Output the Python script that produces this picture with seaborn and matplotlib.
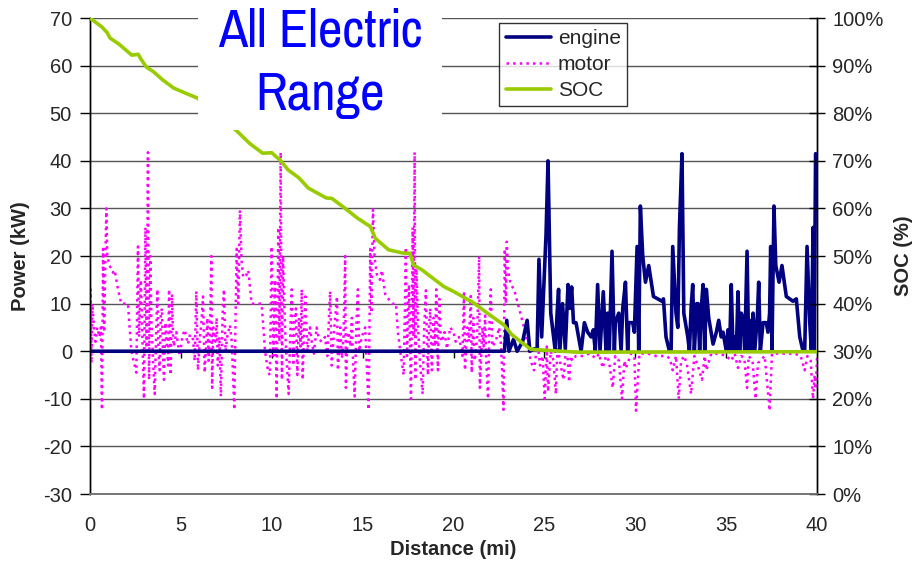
import matplotlib
matplotlib.use("Agg")
import matplotlib.pyplot as plt
import matplotlib.font_manager as fm
from matplotlib.patches import Rectangle
from matplotlib.ticker import FuncFormatter
import pandas as pd
import seaborn as sns

# SOC line (distance in mi, state of charge in %)
soc_mi = [0.0, 0.66, 0.93, 1.1, 1.6, 2.3, 2.5, 2.65, 2.8, 3.1, 3.5, 4.0, 4.6, 5.2, 5.9,
          7.0, 8.15, 8.8, 9.5, 10.0, 10.2, 10.45, 10.9, 11.5, 12.0, 13.0, 13.31, 14.04,
          14.7, 15.42, 15.7, 16.43, 17.25, 17.6, 17.8, 18.26, 19.46, 20.03, 21.13, 21.86,
          22.78, 23.2, 23.7, 24.25, 25.5, 26.8, 40.0]
soc_pct = [100.0, 98.1, 97.0, 95.8, 94.5, 92.2, 92.3, 92.4, 91.4, 89.7, 88.7, 87.0, 85.3,
           84.3, 83.2, 80.0, 76.0, 73.6, 71.6, 71.7, 71.0, 70.2, 68.1, 66.4, 64.3, 62.2,
           62.1, 60.0, 58.0, 56.2, 53.7, 51.3, 50.6, 50.6, 48.1, 47.1, 43.6, 42.5, 40.1,
           38.0, 35.5, 33.5, 32.0, 30.4, 30.1, 29.8, 29.9]

# engine power (kW)
engine_mi = [0.0, 22.8, 22.93, 23.05, 23.3, 23.5, 23.8, 24.05, 24.2, 24.45, 24.6, 24.7,
             24.85, 25.09, 25.2, 25.35, 25.6, 25.7, 25.78, 25.85, 26.0, 26.15, 26.3, 26.4,
             26.5, 26.6, 26.74, 27.02, 27.2, 27.38, 27.57, 27.69, 27.8, 27.93, 28.06, 28.24,
             28.39, 28.48, 28.57, 28.72, 28.85, 28.9, 29.09, 29.22, 29.31, 29.46, 29.58,
             29.64, 29.86, 29.95, 30.1, 30.19, 30.28, 30.41, 30.56, 30.74, 31.0, 31.24,
             31.47, 31.55, 31.69, 31.88, 31.97, 32.06, 32.24, 32.34, 32.43, 32.57, 32.67,
             32.89, 32.98, 33.07, 33.16, 33.25, 33.38, 33.45, 33.54, 33.63, 33.73, 33.82,
             33.91, 34.04, 34.28, 34.46, 34.59, 34.73, 34.83, 34.92, 35.01, 35.1, 35.19,
             35.28, 35.38, 35.47, 35.56, 35.65, 35.74, 35.83, 35.93, 36.02, 36.15, 36.24,
             36.29, 36.39, 36.48, 36.57, 36.72, 36.79, 36.88, 37.03, 37.21, 37.3, 37.39,
             37.45, 37.52, 37.63, 37.73, 37.91, 38.07, 38.31, 38.68, 38.86, 39.05, 39.23,
             39.32, 39.45, 39.6, 39.69, 39.78, 39.84, 39.92]
engine_kw = [0, 0, 6.5, 0, 2.5, 0, 2, 6.5, 0, 0.5, 0.5, 19.3,
             3, 24.5, 40, 8, 0, 8, 13, 0, 10, 0.5, 14, 9,
             13.5, 6, 6, 0, 6, 4, 3, 4.5, 0, 14, 0, 12.5,
             0, 8, 0, 21, 0, 6, 8, 0, 9, 14.5, 0,
             6, 6, 4, 22, 0, 30.5, 20, 14.5, 18, 11.5, 11,
             10.5, 11, 3, 0, 0, 22, 8, 5, 26, 41.5, 8,
             3, 0, 9, 14, 0, 10, 10, 0, 9, 14, 0,
             13, 7, 1.5, 4, 6.5, 3, 4, 2, 0, 4.5, 0,
             14, 0, 3, 0, 12.5, 0, 8, 7, 0, 21, 0,
             6.5, 0, 8, 0, 7.5, 14.5, 0, 6, 6, 4, 8,
             22, 0, 30.5, 18, 14.5, 18, 11.5, 10.5, 11, 3, 0,
             0, 22, 6, 0, 26, 0, 41.5]

# motor power (kW)
motor_mi = [0.0, 0.04, 0.08, 0.13, 0.22, 0.3, 0.4, 0.52, 0.6, 0.66, 0.72, 0.78, 0.84, 0.9,
            0.95, 1.08, 1.27, 1.36, 1.54, 1.72, 2.09, 2.18, 2.28, 2.37, 2.55, 2.64, 2.7, 2.8,
            2.97, 3.05, 3.12, 3.19, 3.25, 3.32, 3.38, 3.47, 3.56, 3.65, 3.71, 3.77, 3.83,
            3.9, 3.96, 4.02, 4.07, 4.15, 4.22, 4.3, 4.35, 4.44, 4.51, 4.57, 4.62, 4.75, 4.94,
            5.08, 5.21, 5.39, 5.5, 5.67, 5.76, 5.85, 5.94, 6.05, 6.13, 6.22, 6.31, 6.4, 6.46,
            6.53, 6.6, 6.68, 6.72, 6.78, 6.9, 6.97, 7.03, 7.12, 7.2, 7.3, 7.37, 7.46, 7.55,
            7.7, 7.8,
            7.94, 8.0, 8.07, 8.16, 8.25, 8.34, 8.43, 8.6, 8.71, 8.89, 9.17, 9.44, 9.54, 9.63,
            9.81, 9.9, 9.99, 10.09, 10.18, 10.27, 10.36, 10.42, 10.49, 10.56, 10.62, 10.73,
            10.82, 10.93, 11.02, 11.1, 11.19, 11.26, 11.33, 11.41, 11.5, 11.58, 11.65, 11.7,
            11.78, 11.85, 11.96, 12.1, 12.2, 12.32, 12.47, 12.6, 12.75, 12.93, 13.06, 13.21,
            13.3, 13.42, 13.59, 13.64, 13.77, 13.86, 13.95, 14.04, 14.08, 14.16, 14.23,
            14.33, 14.41, 14.47, 14.56, 14.66, 14.74, 14.81, 14.95, 15.14,
            15.33, 15.42, 15.48, 15.57, 15.66, 15.79, 15.95, 16.06, 16.24, 16.61, 16.83,
            16.94, 17.07, 17.26, 17.38, 17.44, 17.55, 17.66, 17.75, 17.8, 17.86, 17.9,
            17.96, 18.04, 18.15, 18.3, 18.38, 18.48, 18.59, 18.65, 18.72, 18.81, 18.9,
            18.98, 19.05, 19.14, 19.22, 19.3, 19.36, 19.5, 19.64, 19.82, 20.0,
            20.12, 20.3, 20.4, 20.49, 20.58, 20.63, 20.76, 20.85, 20.95, 21.0, 21.09, 21.17,
            21.3, 21.41, 21.45, 21.59, 21.66, 21.74, 21.8, 21.9, 21.98, 22.05, 22.14, 22.32,
            22.45, 22.51, 22.62, 22.75, 22.82, 22.88, 22.93, 23.0, 23.15, 23.33, 23.61,
            23.88, 24.1, 24.25, 24.43, 24.62, 24.76, 24.9, 25.02, 25.13, 25.2, 25.35, 25.5,
            25.63, 25.72, 25.9, 26.05, 26.15, 26.27, 26.36, 26.45, 26.54, 26.73, 27.1,
            27.47, 27.84, 28.0, 28.21, 28.39, 28.55, 28.76, 28.9, 29.1, 29.27, 29.4, 29.49,
            29.77, 29.95, 30.04, 30.23, 30.7, 31.14, 31.69, 31.9, 32.06, 32.24, 32.39,
            32.52, 32.7, 32.85, 32.98, 33.07, 33.25, 33.44, 33.67, 33.82, 33.91, 34.18,
            34.6, 35.01, 35.28, 35.47, 35.65, 35.83, 36.0, 36.15, 36.24, 36.45, 36.62,
            36.75, 37.12, 37.39, 37.52, 38.22, 38.77, 39.1, 39.32, 39.47, 39.65, 39.78,
            39.87, 39.93, 40.0]
motor_kw = [0, 13, -2.5, 10, 5, 2, 5, 3, 5, -12.3, 21.5, 4, 18, 30,
            20, 18, 16.5, 17, 13, 10, 10, 5, 0, -1.5, -4.5, 22, 3, 15,
            -10, 26, 0, 41.8, -6, 20, 6, -2, -9, 5, 13, 0, -4,
            8, 9, -1, -6, 6, 2, -3, 13, -5, 12, 3, 1, 4, -1,
            3, 4.5, 1.5, 3.5, 2.5, -2, 12.6, -4, 3, 6, 11.5, -4.5, 2, 7,
            -2, 4, 20, -7.7, 5, 2, 7, -3, 3, -9.5, 8, 13, 0, 3,
            5.5, 2,
            -12.3, 5, 21.5, 10, 29.6, 19, 15.5, 16, 17, 10, 10, 10, 5, 0,
            -4.5, -5, 22, -1, 15, -10, 26, 2, 41.8, -6, 20, 5,
            -2, -9, 4, 13, -3, 6, 9, -5, 7, 1, 13, -6,
            4, 11.5, 0, 5, 2, -0.5, 5, 2.5, 2, 3, -1, 12.6,
            -3, 4, 11.5, -4, 5, -1.5, 3, 20, -7.7, 3, 4,
            1, 7, -2, -9.5, 6, 13, 0, 3, 5,
            -12.3, 21.5, 8, 29.8, 19.5, 16, 15, 17, 12, 10, 10,
            4, 0, -5, 21.8, -1, 14, -10, 26, 3, 41.8, -6,
            18, 6, -2, -9, 4, 12.8, -5, 5, 9, -4, 7,
            1, 13, -4, 11, 3, 2, 4, 0.5, 5, 4,
            2, 3, 1, -1, 12.6, -4, 5, 2, 11.6, -4.5, 7, -2,
            3, 20, -7.7, 5, 1, 7.5, -2, -10, 6, 13, 1, 2,
            4, 5, 1, -12.3, 21.5, 10, 23, 17, 14, 13, 9,
            5, 1, -2, -4, 2, -3, -1, -10, 1, -8.5, 0, -2,
            -9, 1, -3, -6, -1, -1, -6.5, -1, -2, -1, -1,
            -0.5, -1.5, -0.5, -3.5, -1, -2, -7.7, -1, -2, -10, -2, -3.5,
            -0.5, -1, -12.5, -0.5, -0.5, -1, -1, -1.5, -4, -1, -10,
            -2, -1, -3, -6.5, -9, -1, -3, -6, -1, -4, -0.5,
            -0.5, -1, -2, -0.5, -3.5, -1, -1.5, -7.7, -1, -2, -10,
            -2.5, -1, -12.5, -0.5, -0.5, -0.5, -1, -4, -1, -2, -10,
            -5, -8, -1]

power_ticks = [-30, -20, -10, 0, 10, 20, 30, 40, 50, 60, 70]
soc_ticks = [0, 10, 20, 30, 40, 50, 60, 70, 80, 90, 100]
dist_ticks = [0, 5, 10, 15, 20, 25, 30, 35, 40]

engine_df = pd.DataFrame({"dist": engine_mi, "power": engine_kw})
motor_df = pd.DataFrame({"dist": motor_mi, "power": motor_kw})
soc_df = pd.DataFrame({"dist": soc_mi, "soc": soc_pct})

sns.set_theme(style="white")
plt.rcParams["font.family"] = ["Liberation Sans", "DejaVu Sans"]
plt.rcParams["axes.unicode_minus"] = False

# the banner uses an Arial Narrow like face; take the first one installed
installed = {f.name for f in fm.fontManager.ttflist}
narrow_pref = ["Liberation Sans Narrow", "Arial Narrow", "Pragati Narrow",
               "Roboto Condensed", "PT Sans Narrow", "Archivo Narrow"]
narrow = [n for n in narrow_pref if n in installed]
title_font = narrow[:1] + ["Liberation Sans", "DejaVu Sans"]
title_size = 42 if narrow else 33

fig = plt.figure(figsize=(9.23, 5.67), dpi=100)
ax = fig.add_axes([0.0975, 0.1287, 0.7877, 0.8395])
ax2 = ax.twinx()

sns.lineplot(data=motor_df, x="dist", y="power", ax=ax, color="#FF00FF", lw=1.8,
             linestyle=":", estimator=None, sort=False, label="motor", zorder=3)
sns.lineplot(data=engine_df, x="dist", y="power", ax=ax, color="#000080", lw=2.6,
             estimator=None, sort=False, label="engine", zorder=4)
sns.lineplot(data=soc_df, x="dist", y="soc", ax=ax2, color="#99CC00", lw=2.6,
             estimator=None, sort=False, label="SOC", zorder=3)
for a in (ax, ax2):
    if a.get_legend() is not None:
        a.get_legend().remove()

ax.set_xlim(0, 40)
ax.set_ylim(-30, 70)
ax2.set_ylim(0, 100)
ax.set_xticks(dist_ticks)
ax.set_yticks(power_ticks)
ax2.set_yticks(soc_ticks)
ax2.yaxis.set_major_formatter(FuncFormatter(lambda v, p: f"{v:.0f}%"))

ax.grid(axis="y", color="#555555", lw=1.0)
ax.grid(axis="x", visible=False)
ax.set_axisbelow(True)

for a in (ax, ax2):
    a.spines["top"].set_visible(False)
    a.spines["bottom"].set_color("#777777")
    a.spines["left"].set_color("black")
    a.spines["right"].set_color("black")
    a.spines["left"].set_linewidth(1.0)
    a.spines["right"].set_linewidth(1.0)

ax.tick_params(axis="y", which="major", direction="out", length=7, width=1,
               color="black", labelsize=14.5, pad=6, left=True)
ax.tick_params(axis="x", which="major", length=0, labelsize=14.5, pad=16)
ax2.tick_params(axis="y", which="major", direction="inout", length=12, width=1,
                color="black", labelsize=14.5, pad=5, right=True)

# small distance ticks sit on the zero-power line
zero_axis = ax.secondary_xaxis((0 - (-30)) / 100)
zero_axis.set_xticks(dist_ticks[1:-1])
zero_axis.tick_params(axis="x", direction="out", length=5, width=1, color="black",
                      labelbottom=False)
zero_axis.spines["bottom"].set_visible(False)

ax.set_xlabel("Distance (mi)", fontsize=14.5, fontweight="bold")
ax.set_ylabel("Power (kW)", fontsize=14.5, fontweight="bold")
ax2.set_ylabel("SOC (%)", fontsize=14.5, fontweight="bold")
ax.xaxis.set_label_coords(0.5, -0.097)
ax.yaxis.set_label_coords(-0.083, 0.5)
ax2.yaxis.set_label_coords(1.106, 0.5)

# legend with handles from both axes
h1, l1 = ax.get_legend_handles_labels()
h2, l2 = ax2.get_legend_handles_labels()
handles = [h1[l1.index("engine")], h1[l1.index("motor")], h2[0]]
leg = ax2.legend(handles, ["engine", "motor", "SOC"], loc="upper left",
                 bbox_to_anchor=(0.563, 0.99), fontsize=15, frameon=True,
                 fancybox=False, shadow=False, borderpad=0.3, labelspacing=0.34,
                 handlelength=2.2, handletextpad=0.3, borderaxespad=0)
leg.get_frame().set_edgecolor("black")
leg.get_frame().set_linewidth(1.0)
leg.set_zorder(20)

# white text box covering part of the plot
box = Rectangle((0.1486, 0.765), 0.3354, 0.28, transform=ax2.transAxes,
                facecolor="white", edgecolor="none", zorder=30, clip_on=False)
ax2.add_patch(box)
ax2.text(0.3164, 0.9397, "All Electric", transform=ax2.transAxes, ha="center",
         va="baseline", fontsize=title_size, color="#0000FF", family=title_font,
         fontweight="normal", zorder=31)
ax2.text(0.3164, 0.8067, "Range", transform=ax2.transAxes, ha="center",
         va="baseline", fontsize=title_size, color="#0000FF", family=title_font,
         fontweight="normal", zorder=31)

fig.savefig("out.png", dpi=100)
